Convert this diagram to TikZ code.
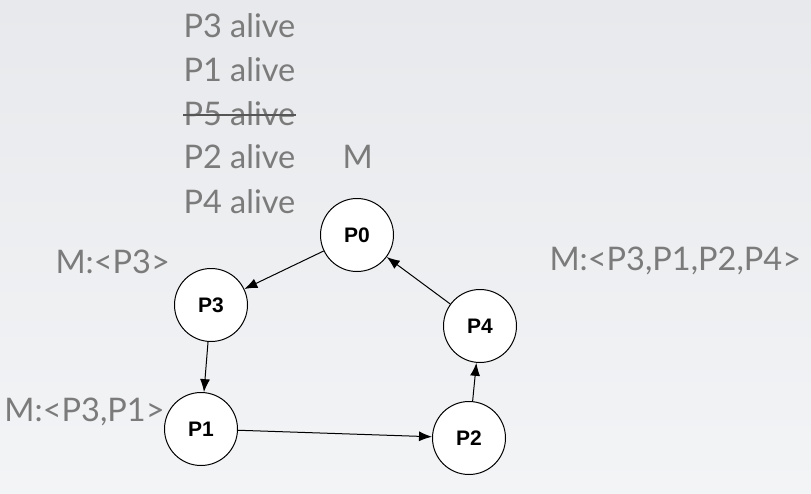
\documentclass[tikz,border=0pt]{standalone}
\usepackage{fontspec}
\setmainfont{Lato}
\newfontfamily\nodefont{Liberation Sans}
\usepackage{xcolor}
\definecolor{slidegray}{HTML}{7B7B7B}
\definecolor{bgtop}{HTML}{E7E9EC}
\definecolor{bgbottom}{HTML}{F3F4F6}
\usetikzlibrary{arrows.meta,positioning}

\begin{document}
\begin{tikzpicture}[->,>={Latex[length=13pt,width=10pt]},x=1pt,y=-1pt,line width=1pt]
  \tikzstyle{proc}=[circle,draw=black,fill=white,minimum size=73pt,inner sep=0pt,font=\nodefont\bfseries\fontsize{21}{21}\selectfont]
  \tikzstyle{note}=[anchor=base west,inner sep=0pt,text=slidegray,font=\fontsize{32.5}{32.5}\selectfont]
  \tikzstyle{msg}=[black]

  \shade[top color=bgtop,bottom color=bgbottom,draw=none] (0,0) rectangle (811,493);
  \useasboundingbox (0,0) rectangle (811,493);

  % alive list
  \node[note] (L3) at (183,37)  {P3 alive};
  \node[note] (L1) at (183,81)  {P1 alive};
  \node[note] (L5) at (183,125) {P5 alive};
  \node[note] (L2) at (183,168) {P2 alive};
  \node[note] (L4) at (183,213) {P4 alive};
  \node[note] (M)  at (342,168) {M};
  \draw[-,draw=slidegray!70!black,line width=1.5pt] ([yshift=10pt]L5.base west) -- ([yshift=10pt]L5.base east);

  % messages
  \node[note] (M1) at (55,273)  {M:<P3>};
  \node[note] (M2) at (4,421)   {M:<P3,P1>};
  \node[note] (M3) at (549,270) {M:<P3,P1,P2,P4>};

  % ring
  \node[proc] (P0) at (357,235) {P0};
  \node[proc] (P3) at (211,305) {P3};
  \node[proc] (P1) at (201,429) {P1};
  \node[proc] (P2) at (469,438) {P2};
  \node[proc] (P4) at (480,326) {P4};

  \path (P0) edge [msg] (P3)
        (P3) edge [msg] (P1)
        (P1) edge [msg] (P2)
        (P2) edge [msg] (P4)
        (P4) edge [msg] (P0);
\end{tikzpicture}
\end{document}
